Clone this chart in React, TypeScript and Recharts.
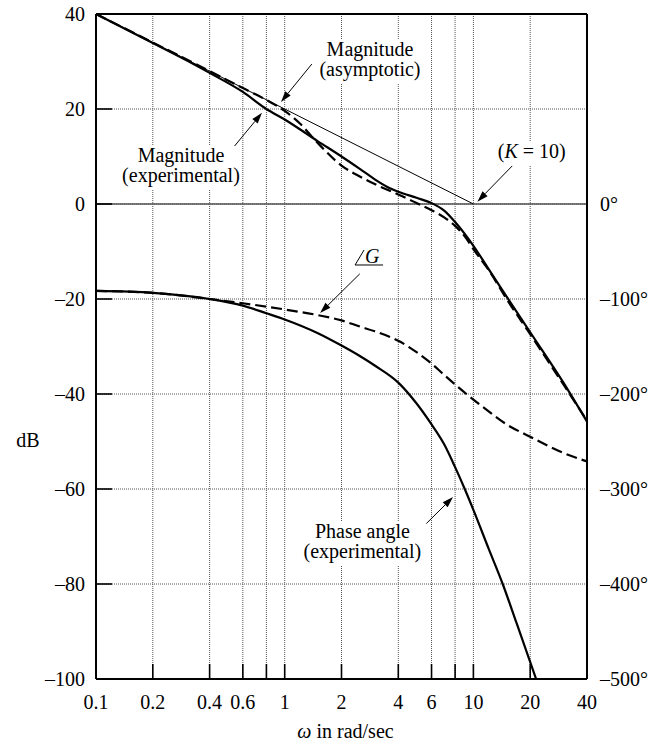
import { CartesianGrid, Line, LineChart, ReferenceDot, ReferenceLine, XAxis, YAxis } from "recharts";

const FONT = '"Liberation Serif", "Times New Roman", serif';

// axis ticks
const xTicks = [0.1, 0.2, 0.4, 0.6, 0.8, 1, 2, 4, 6, 8, 10, 20, 40];
const xLabelled = [0.1, 0.2, 0.4, 0.6, 1, 2, 4, 6, 10, 20, 40];
const dbTicks = [40, 20, 0, -20, -40, -60, -80, -100];
const degTicks = [0, -100, -200, -300, -400, -500];

// -20 dB/decade asymptote, K = 10
const asymW = [0.1, 10];
const asymDb = [40, 0];

// magnitude, experimental (solid)
const magExpW = [0.1, 0.2, 0.3, 0.4, 0.6, 0.8, 1, 1.5, 2, 2.5, 3, 3.5, 4, 5, 6, 7, 8, 9, 10, 12, 15, 20, 30, 40];
const magExpDb = [40, 33.9, 30.3, 27.6, 23.6, 20.0, 17.8, 13.2, 10.0, 7.4, 5.2, 3.6, 2.6, 1.3, 0.2, -1.4, -3.8, -6.3, -8.8, -13.6, -19.5, -27, -37.6, -45.8];

// magnitude, model (dashed)
const magFitW = [0.1, 0.2, 0.4, 0.6, 0.8, 1, 1.2, 1.5, 2, 2.5, 3, 3.5, 4, 5, 6, 7, 8, 9, 10, 12, 15, 20, 30, 40];
const magFitDb = [40, 34, 28, 24.4, 21.9, 19.6, 17.0, 12.8, 8.1, 5.8, 4.2, 3.0, 2.0, 0.2, -1.3, -2.8, -4.6, -6.8, -9.5, -13.8, -20, -27.4, -38, -45.6];

// phase, experimental (solid), degrees
const phExpW = [0.1, 0.2, 0.4, 0.6, 0.8, 1, 1.5, 2, 2.5, 3, 4, 5, 6, 7, 8, 9, 10, 12, 14.3, 17, 21.5];
const phExpDeg = [-91.5, -93.5, -100, -107, -115, -121.5, -136, -149, -160, -170, -188, -210, -232, -253, -277, -300, -322, -362, -400, -442, -500];

// phase, model (dashed), degrees
const phFitW = [0.1, 0.2, 0.4, 0.6, 0.8, 1, 1.5, 2, 2.5, 3, 4, 5, 6, 7, 8, 10, 12, 15, 20, 30, 40];
const phFitDeg = [-91.5, -93.5, -100, -104.5, -108, -111, -117, -122.5, -129, -134, -144, -156, -168, -180, -190, -206, -218, -232, -245, -262, -271];

const rows = (ws: number[], vs: number[]) => ws.map((w, i) => ({ w, v: vs[i] }));

const dash = (v: number) => (v < 0 ? "\u2013" + Math.abs(v) : String(v));

function XTick(p: any) {
  const { x, y, payload } = p;
  const v = payload.value;
  return (
    <g>
      <line x1={x} y1={y} x2={x} y2={y - 15} stroke="#000" strokeWidth={1.6} />
      {xLabelled.includes(v) && (
        <text x={x} y={y + 30} textAnchor="middle" fontSize={20} fontFamily={FONT} fill="#000">
          {String(v)}
        </text>
      )}
    </g>
  );
}

function DbTick(p: any) {
  const { x, y, payload } = p;
  return (
    <g>
      <line x1={x} y1={y} x2={x + 16} y2={y} stroke="#000" strokeWidth={1.6} />
      <text x={x - 11} y={y + 7} textAnchor="end" fontSize={20} fontFamily={FONT} fill="#000">
        {dash(payload.value)}
      </text>
    </g>
  );
}

function DegTick(p: any) {
  const { x, y, payload } = p;
  return (
    <text x={x + 13} y={y + 7} textAnchor="start" fontSize={20} fontFamily={FONT} fill="#000">
      {dash(payload.value) + "\u00b0"}
    </text>
  );
}

function Arrow(p: any) {
  const { x1, y1, x2, y2 } = p;
  const a = Math.atan2(y2 - y1, x2 - x1);
  const len = 11;
  const half = 3.5;
  const bx = x2 - len * Math.cos(a);
  const by = y2 - len * Math.sin(a);
  const pts = `${x2},${y2} ${bx - half * Math.sin(a)},${by + half * Math.cos(a)} ${bx + half * Math.sin(a)},${by - half * Math.cos(a)}`;
  return (
    <g>
      <line x1={x1} y1={y1} x2={bx} y2={by} stroke="#000" strokeWidth={1} />
      <polygon points={pts} fill="#000" />
    </g>
  );
}

function Note({ cx, cy, lines, width }: { cx: number; cy: number; lines: React.ReactNode[]; width: number }) {
  return (
    <g>
      <rect x={cx - width / 2} y={cy - 16} width={width} height={20 * (lines.length - 1) + 24} fill="#fff" />
      {lines.map((l, i) => (
        <text key={i} x={cx} y={cy + i * 20} textAnchor="middle" fontSize={20} fontFamily={FONT} fill="#000">
          {l}
        </text>
      ))}
    </g>
  );
}

function AngleG(p: any) {
  const { cx, cy } = p;
  return (
    <g>
      <polyline points={`${cx + 9},${cy - 15} ${cx},${cy} ${cx + 28},${cy}`} fill="none" stroke="#000" strokeWidth={1} />
      <text x={cx + 10} y={cy - 2} fontSize={20} fontFamily={FONT} fontStyle="italic" fill="#000">
        G
      </text>
    </g>
  );
}

export default function App() {
  return (
    <div style={{ position: "absolute", left: 0, top: 0, width: 653, height: 743, background: "#fff" }}>
      <LineChart width={653} height={743} margin={{ top: 14, right: 0, bottom: 0, left: 0 }}>
        <CartesianGrid yAxisId="db" stroke="#555" strokeWidth={1} strokeDasharray="1 1" />
        <XAxis
          dataKey="w"
          type="number"
          scale="log"
          domain={[0.1, 40]}
          allowDataOverflow
          ticks={xTicks}
          interval={0}
          height={64}
          tickSize={0}
          tickMargin={0}
          tickLine={false}
          tick={<XTick />}
          axisLine={{ stroke: "#000", strokeWidth: 2 }}
          label={{
            content: (p: any) => (
              <text x={p.viewBox.x + p.viewBox.width / 2 + 4} y={p.viewBox.y + 59} textAnchor="middle" fontSize={20} fontFamily={FONT} fill="#000">
                <tspan fontStyle="italic">{"\u03c9"}</tspan> in rad/sec
              </text>
            ),
          }}
        />
        <YAxis
          yAxisId="db"
          type="number"
          domain={[-100, 40]}
          allowDataOverflow
          ticks={dbTicks}
          interval={0}
          width={96}
          tickSize={0}
          tickMargin={0}
          tickLine={false}
          tick={<DbTick />}
          axisLine={{ stroke: "#000", strokeWidth: 2 }}
          label={{
            content: (p: any) => (
              <text x={p.viewBox.x + 28} y={p.viewBox.y + 433} textAnchor="middle" fontSize={20} fontFamily={FONT} fill="#000">
                dB
              </text>
            ),
          }}
        />
        <YAxis
          yAxisId="deg"
          orientation="right"
          type="number"
          domain={[-500, 200]}
          allowDataOverflow
          ticks={degTicks}
          interval={0}
          width={66}
          tickSize={0}
          tickMargin={0}
          tickLine={false}
          tick={<DegTick />}
          axisLine={{ stroke: "#000", strokeWidth: 2 }}
        />
        <ReferenceLine yAxisId="db" y={0} stroke="#555" strokeWidth={1.3} />
        <ReferenceLine yAxisId="db" y={40} stroke="#000" strokeWidth={2} />

        <Line yAxisId="db" data={rows(asymW, asymDb)} dataKey="v" type="linear" stroke="#000" strokeWidth={1} dot={false} isAnimationActive={false} />
        <Line yAxisId="db" data={rows(magFitW, magFitDb)} dataKey="v" type="monotone" stroke="#000" strokeWidth={2.2} strokeDasharray="11 5" dot={false} isAnimationActive={false} />
        <Line yAxisId="db" data={rows(magExpW, magExpDb)} dataKey="v" type="monotone" stroke="#000" strokeWidth={2.2} dot={false} isAnimationActive={false} />
        <Line yAxisId="deg" data={rows(phFitW, phFitDeg)} dataKey="v" type="monotone" stroke="#000" strokeWidth={2.2} strokeDasharray="11 5" dot={false} isAnimationActive={false} />
        <Line yAxisId="deg" data={rows(phExpW, phExpDeg)} dataKey="v" type="monotone" stroke="#000" strokeWidth={2.2} dot={false} isAnimationActive={false} />

        <ReferenceDot yAxisId="db" x={2.83} y={31.2} ifOverflow="visible" shape={(p: any) => <Note cx={p.cx} cy={p.cy} width={116} lines={["Magnitude", "(asymptotic)"]} />} />
        <ReferenceDot yAxisId="db" x={0.282} y={8.84} ifOverflow="visible" shape={(p: any) => <Note cx={p.cx} cy={p.cy} width={122} lines={["Magnitude", "(experimental)"]} />} />
        <ReferenceDot
          yAxisId="db"
          x={20.4}
          y={9.7}
          ifOverflow="visible"
          shape={(p: any) => (
            <Note
              cx={p.cx}
              cy={p.cy}
              width={78}
              lines={[
                <>
                  (<tspan fontStyle="italic">K</tspan> = 10)
                </>,
              ]}
            />
          )}
        />
        <ReferenceDot yAxisId="db" x={2.58} y={-70.3} ifOverflow="visible" shape={(p: any) => <Note cx={p.cx} cy={p.cy} width={128} lines={["Phase angle", "(experimental)"]} />} />
        <ReferenceDot yAxisId="db" x={2.36} y={-12.84} ifOverflow="visible" shape={(p: any) => <AngleG {...p} />} />

        <ReferenceLine yAxisId="db" ifOverflow="visible" segment={[{ x: 1.395, y: 29.5 }, { x: 0.956, y: 21.5 }]} shape={(p: any) => <Arrow {...p} />} />
        <ReferenceLine yAxisId="db" ifOverflow="visible" segment={[{ x: 0.495, y: 10.3 }, { x: 0.758, y: 19.2 }]} shape={(p: any) => <Arrow {...p} />} />
        <ReferenceLine yAxisId="db" ifOverflow="visible" segment={[{ x: 16.6, y: 8.6 }, { x: 10.5, y: 0.5 }]} shape={(p: any) => <Arrow {...p} />} />
        <ReferenceLine yAxisId="db" ifOverflow="visible" segment={[{ x: 2.5, y: -14.7 }, { x: 1.54, y: -22.95 }]} shape={(p: any) => <Arrow {...p} />} />
        <ReferenceLine yAxisId="db" ifOverflow="visible" segment={[{ x: 5.21, y: -68.6 }, { x: 7.8, y: -61.7 }]} shape={(p: any) => <Arrow {...p} />} />
      </LineChart>
    </div>
  );
}
